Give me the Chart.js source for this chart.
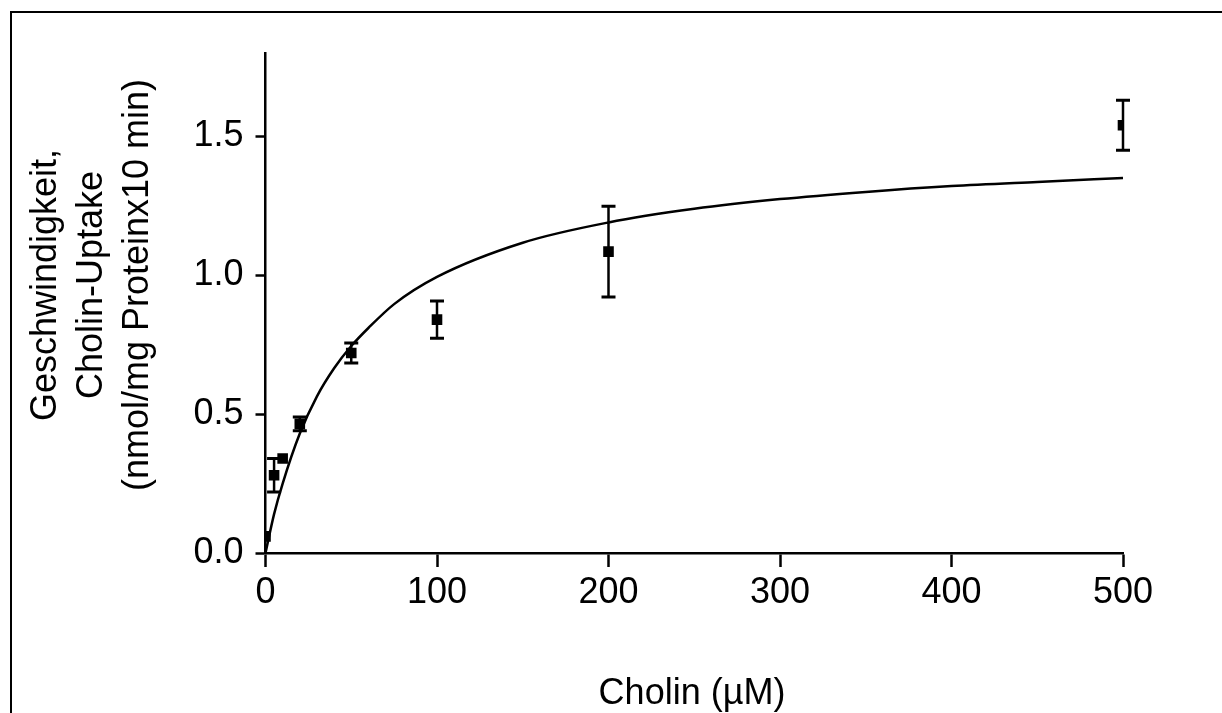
<!DOCTYPE html>
<html>
<head>
<meta charset="utf-8">
<script src="https://cdn.jsdelivr.net/npm/chart.js@4"></script>
<style>
  html, body { margin: 0; padding: 0; background: #fff; }
  #wrap { position: relative; width: 1222px; height: 713px; overflow: hidden; }
  #frame { position: absolute; left: 10px; top: 11px; width: 1400px; height: 900px; border: 2px solid #000; }
  #uptakeChart { position: absolute; left: 0; top: 0; }
</style>
</head>
<body>
<div id="wrap">
  <div id="frame"></div>
  <canvas id="uptakeChart" width="1222" height="713"></canvas>
</div>
<script>
// Cholin-Konzentration (µM) und gemessene Aufnahme
const cholin = [0, 5, 10, 20, 50, 100, 200, 500];
const uptake = [0.06, 0.28, 0.34, 0.465, 0.72, 0.84, 1.085, 1.54];
const sem = [0, 0.06, 0, 0.025, 0.036, 0.067, 0.163, 0.09];

// Michaelis-Menten-Anpassung
const fitX = [0, 5, 10, 20, 30, 40, 50, 60, 75, 100, 150, 200, 250, 300, 350, 400, 450, 500];
const fitY = [0.0, 0.14, 0.25, 0.43, 0.564, 0.665, 0.745, 0.81, 0.896, 0.994, 1.117, 1.19, 1.239, 1.274, 1.300, 1.321, 1.336, 1.35];

const xTicks = [0, 100, 200, 300, 400, 500];
const yTicks = [0, 0.5, 1.0, 1.5];

const yTitle = ['Geschwindigkeit,', 'Cholin-Uptake', '(nmol/mg Proteinx10 min)'];
const xTitle = 'Cholin (µM)';

const FONT = '"Liberation Sans", Arial, sans-serif';

const errorBars = {
    id: 'errorBars',
    afterDatasetsDraw(chart) {
        const ctx = chart.ctx;
        const xs = chart.scales.x, ys = chart.scales.y;
        ctx.save();
        ctx.strokeStyle = '#000';
        cholin.forEach((c, i) => {
            if (!sem[i]) return;
            const px = xs.getPixelForValue(c);
            const top = ys.getPixelForValue(uptake[i] + sem[i]);
            const bot = ys.getPixelForValue(uptake[i] - sem[i]);
            ctx.lineWidth = 2.5;
            ctx.beginPath();
            ctx.moveTo(px, top);
            ctx.lineTo(px, bot);
            ctx.stroke();
            ctx.lineWidth = 3;
            ctx.beginPath();
            ctx.moveTo(px - 7, top);
            ctx.lineTo(px + 7, top);
            ctx.moveTo(px - 7, bot);
            ctx.lineTo(px + 7, bot);
            ctx.stroke();
        });
        ctx.restore();
    }
};

const axisTitles = {
    id: 'axisTitles',
    afterDraw(chart) {
        const ctx = chart.ctx;
        ctx.save();
        ctx.fillStyle = '#000';
        ctx.font = '36px ' + FONT;
        ctx.textAlign = 'center';
        ctx.textBaseline = 'alphabetic';
        ctx.fillText(xTitle, 692, 704);
        const baselines = [56, 102, 148];
        yTitle.forEach((line, i) => {
            ctx.save();
            ctx.translate(baselines[i], 285);
            ctx.rotate(-Math.PI / 2);
            ctx.fillText(line, 0, 0);
            ctx.restore();
        });
        ctx.restore();
    }
};

new Chart(document.getElementById('uptakeChart'), {
    type: 'scatter',
    data: {
        datasets: [{
            label: 'Fit',
            data: fitX.map((x, i) => ({ x: x, y: fitY[i] })),
            showLine: true,
            borderColor: '#000',
            borderWidth: 2.5,
            pointRadius: 0,
            cubicInterpolationMode: 'monotone',
            order: 2
        }, {
            label: 'Uptake',
            data: cholin.map((x, i) => ({ x: x, y: uptake[i] })),
            pointStyle: 'rect',
            pointRadius: 7.5,
            pointBorderWidth: 0,
            backgroundColor: '#000',
            borderColor: '#000',
            order: 1
        }]
    },
    options: {
        responsive: false,
        animation: false,
        devicePixelRatio: 1,
        layout: { padding: { top: 53, right: 99, left: 0, bottom: 0 } },
        plugins: { legend: { display: false }, tooltip: { enabled: false } },
        scales: {
            x: {
                type: 'linear',
                min: 0,
                max: 500,
                afterBuildTicks: axis => { axis.ticks = xTicks.map(v => ({ value: v })); },
                afterFit: scale => { scale.height = 160; },
                ticks: { color: '#000', font: { size: 36, family: FONT }, padding: 4, maxRotation: 0 },
                grid: { drawOnChartArea: false, drawTicks: true, tickLength: 14, tickWidth: 2.5, tickColor: '#000' },
                border: { display: true, color: '#000', width: 2.5 }
            },
            y: {
                type: 'linear',
                min: 0,
                max: 1.8,
                afterBuildTicks: axis => { axis.ticks = yTicks.map(v => ({ value: v })); },
                afterFit: scale => { scale.width = 265.5; },
                ticks: { color: '#000', font: { size: 36, family: FONT }, padding: 12, callback: v => v.toFixed(1) },
                grid: { drawOnChartArea: false, drawTicks: true, tickLength: 10, tickWidth: 2.5, tickColor: '#000' },
                border: { display: true, color: '#000', width: 2.5 }
            }
        }
    },
    plugins: [errorBars, axisTitles]
});
</script>
</body>
</html>
